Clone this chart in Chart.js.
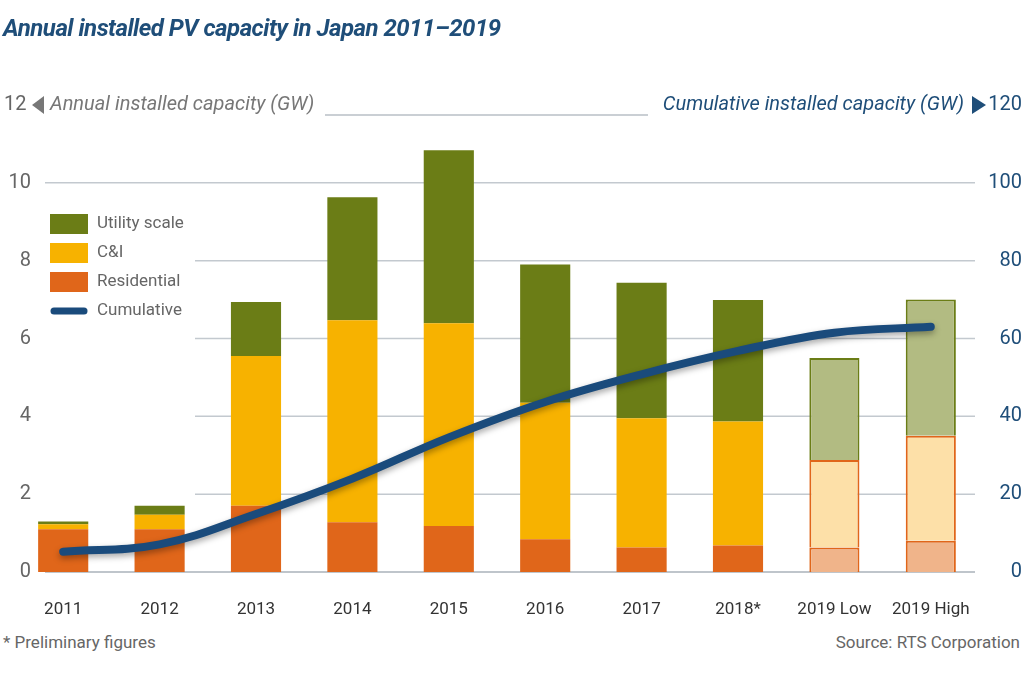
<!DOCTYPE html>
<html><head><meta charset="utf-8">
<script src="https://cdn.jsdelivr.net/npm/chart.js@4"></script>
<style>
body{margin:0;background:#fff;width:1024px;height:688px;overflow:hidden;position:relative;font-family:Roboto,sans-serif;}
#t{position:absolute;left:3px;top:14px;font-size:24px;font-weight:bold;font-style:italic;color:#1f4e79;letter-spacing:-0.5px;}
#c{position:absolute;left:0;top:0;}
.f{position:absolute;top:632px;font-size:17px;color:#666;}
</style></head><body>
<canvas id="c" width="1024" height="620"></canvas>
<div id="t">Annual installed PV capacity in Japan 2011–2019</div>
<div class="f" style="left:3px">* Preliminary figures</div>
<div class="f" style="right:4px">Source: RTS Corporation</div>
<script>
const categories=['2011','2012','2013','2014','2015','2016','2017','2018*','2019 Low','2019 High'];
const residential=[1.1,1.1,1.7,1.28,1.18,0.84,0.63,0.68,0.63,0.8];
const candi=[0.13,0.37,3.85,5.19,5.21,3.51,3.32,3.19,2.25,2.7];
const utility=[0.07,0.23,1.39,3.16,4.45,3.55,3.48,3.12,2.62,3.5];
const cumulative=[5.2,7.1,14.9,24,34.6,43.7,50.8,56.8,61.5,63];
const leftTicks=[0,2,4,6,8,10,12];
const rightTicks=[0,20,40,60,80,100,120];
const F="Roboto,sans-serif";
function cols(solid,light){return categories.map((c,i)=>i>=8?light:solid);}
const GL=45,GR=975;
const grid={id:'gr',beforeDatasetsDraw(ch){const x=ch.ctx,y=ch.scales.y,y2=ch.scales.y2;x.save();
x.strokeStyle='#c3c9cf';x.lineWidth=1.5;
leftTicks.forEach(v=>{if(v===0||v===12)return;const p=y.getPixelForValue(v);x.beginPath();x.moveTo(v<=8?195:GL,p);x.lineTo(GR,p);x.stroke();});
x.strokeStyle='#aab2ba';const p0=y.getPixelForValue(0);x.beginPath();x.moveTo(GL,p0);x.lineTo(GR,p0);x.stroke();
x.font='20px '+F;x.textBaseline='middle';
leftTicks.forEach(v=>{if(v===12)return;x.fillStyle='#666';x.textAlign='right';x.fillText(String(v),31,y.getPixelForValue(v));});
rightTicks.forEach(v=>{if(v===120)return;x.fillStyle='#1f4e79';x.textAlign='right';x.fillText(String(v),1022,y2.getPixelForValue(v));});
x.restore();},
afterDraw(ch){const x=ch.ctx;x.save();
const items=[['Utility scale','#6b7d16'],['C&I','#f7b200'],['Residential','#e0661a']];
x.font='17px '+F;x.textBaseline='middle';
items.forEach((it,i)=>{const y=224+i*29;x.fillStyle=it[1];x.fillRect(50,y-10,38,20);x.fillStyle='#666';x.fillText(it[0],97,y);});
x.strokeStyle='#1a4b7c';x.lineWidth=7;x.lineCap='round';x.beginPath();x.moveTo(54,311);x.lineTo(84,311);x.stroke();
x.fillStyle='#666';x.fillText('Cumulative',97,311);
const yl=ch.scales.y.getPixelForValue(12);
x.font='20px '+F;x.fillStyle='#666';x.textAlign='left';x.fillText('12',4,yl);
x.fillStyle='#1f4e79';x.textAlign='right';x.fillText('120',1022,yl);
x.font='italic 20px '+F;x.fillStyle='#777';x.textAlign='left';x.fillText('Annual installed capacity (GW)',50,yl);
x.beginPath();x.moveTo(32,yl);x.lineTo(44,yl-9);x.lineTo(44,yl+9);x.closePath();x.fill();
x.fillStyle='#1f4e79';x.textAlign='right';x.fillText('Cumulative installed capacity (GW)',964,yl);
x.beginPath();x.moveTo(986,yl);x.lineTo(972,yl-9);x.lineTo(972,yl+9);x.closePath();x.fill();
x.strokeStyle='#b8bfc6';x.lineWidth=1.5;x.lineCap='butt';x.beginPath();x.moveTo(325,yl+10);x.lineTo(648,yl+10);x.stroke();
x.restore();}};
const shadow={id:'sh',beforeDatasetDraw(ch,a){if(a.meta.type==='line'){ch.ctx.save();ch.ctx.shadowColor='rgba(0,0,0,0.35)';ch.ctx.shadowBlur=6;ch.ctx.shadowOffsetY=3;}},afterDatasetDraw(ch,a){if(a.meta.type==='line')ch.ctx.restore();}};
const bw=categories.map((c,i)=>i>=8?2:0);
new Chart(document.getElementById('c'),{
type:'bar',
data:{labels:categories,datasets:[
{type:'line',label:'Cumulative',data:cumulative,yAxisID:'y2',borderColor:'#1a4b7c',borderWidth:8,pointRadius:0,tension:0.4,borderCapStyle:'round',order:0},
{label:'Residential',data:residential,backgroundColor:cols('#e0661a','#f0b48a'),borderColor:'#e0661a',borderWidth:bw,stack:'s',order:1},
{label:'C&I',data:candi,backgroundColor:cols('#f7b200','#fde0a8'),borderColor:'#e0661a',borderWidth:bw,stack:'s',order:1},
{label:'Utility scale',data:utility,backgroundColor:cols('#6b7d16','#b2bb82'),borderColor:'#6b7d16',borderWidth:bw,stack:'s',order:1}
]},
options:{responsive:false,animation:false,
layout:{padding:{top:105,left:0,right:0,bottom:0}},
plugins:{legend:{display:false},tooltip:{enabled:false}},
datasets:{bar:{barPercentage:0.52,categoryPercentage:1}},
scales:{
x:{stacked:true,grid:{display:false},border:{display:false},ticks:{color:'#333',font:{family:F,size:17},padding:20,maxRotation:0,autoSkip:false},afterFit(s){s.height=48;}},
y:{stacked:true,min:0,max:12,afterBuildTicks(s){s.ticks=leftTicks.map(v=>({value:v}));},ticks:{display:false},grid:{display:false},border:{display:false},afterFit(s){s.width=15;}},
y2:{position:'right',min:0,max:120,afterBuildTicks(s){s.ticks=rightTicks.map(v=>({value:v}));},ticks:{display:false},grid:{display:false},border:{display:false},afterFit(s){s.width=45;}}
}},
plugins:[grid,shadow]});
</script></body></html>
